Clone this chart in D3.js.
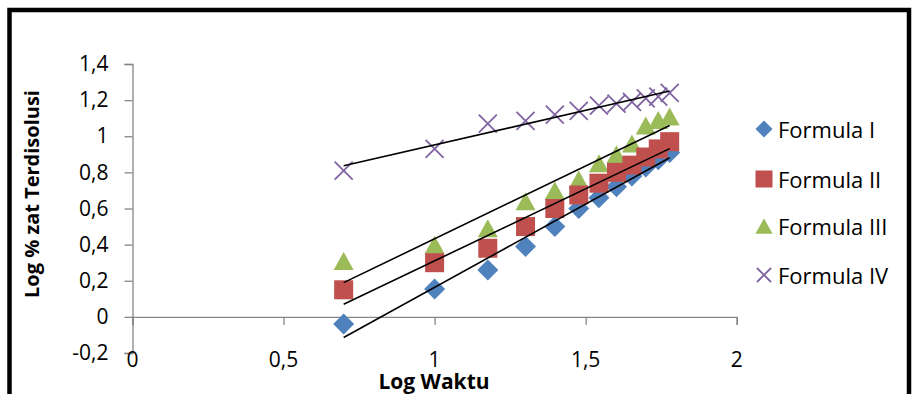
<!DOCTYPE html>
<html>
<head>
<meta charset="utf-8">
<script src="https://cdn.jsdelivr.net/npm/d3@7"></script>
<style>
  html, body { margin: 0; padding: 0; background: #fff; }
  svg { display: block; }
</style>
</head>
<body>
<svg id="chart" width="912" height="394"></svg>
<script>
// ---- data ----
const times = [5, 10, 15, 20, 25, 30, 35, 40, 45, 50, 55, 60];
const logTime = times.map(t => Math.log10(t));
const seriesNames = ["Formula I", "Formula II", "Formula III", "Formula IV"];
const formulaI   = [-0.04, 0.155, 0.26, 0.39, 0.50, 0.60, 0.66, 0.72, 0.78, 0.83, 0.87, 0.91];
const formulaII  = [0.15, 0.30, 0.38, 0.50, 0.60, 0.675, 0.74, 0.80, 0.84, 0.885, 0.93, 0.97];
const formulaIII = [0.31, 0.40, 0.49, 0.64, 0.70, 0.76, 0.85, 0.90, 0.96, 1.06, 1.09, 1.11];
const formulaIV  = [0.81, 0.93, 1.07, 1.085, 1.12, 1.14, 1.17, 1.18, 1.19, 1.21, 1.22, 1.24];
const xTicks = [0, 0.5, 1, 1.5, 2];
const yTicks = [-0.2, 0, 0.2, 0.4, 0.6, 0.8, 1, 1.2, 1.4];
const xTitle = "Log Waktu";
const yTitle = "Log  % zat Terdisolusi";

// ---- styles ----
const colors = ["#4F81BD", "#C0504D", "#9BBB59", "#8064A2"];
const shapes = ["diamond", "square", "triangle", "cross"];
const font = "'Open Sans', 'Liberation Sans', sans-serif";
const axisColor = "#868686";

const svg = d3.select("#chart");
const x = d3.scaleLinear().domain([0, 2]).range([132.5, 736.7]);
const y = d3.scaleLinear().domain([-0.2, 1.4]).range([353, 64]);
const fmt = d => String(+d.toFixed(1)).replace(".", ",");

// outer frame
svg.append("path")
  .attr("d", "M9.5,400 L9.5,10 L909,10 L909,400")
  .attr("fill", "none").attr("stroke", "#000").attr("stroke-width", 4.5);

// y axis
const yAxis = svg.append("g").attr("transform", `translate(${x(0)},0)`)
  .call(d3.axisLeft(y).tickValues(yTicks).tickSize(8).tickPadding(16).tickFormat(fmt));
yAxis.select(".domain").attr("stroke", axisColor).attr("stroke-width", 1.3);
yAxis.selectAll(".tick line").attr("stroke", axisColor).attr("stroke-width", 1.3);
yAxis.selectAll("text").attr("font-family", font).attr("font-size", 21).attr("fill", "#000");

// x axis at y=0
const xAxis = svg.append("g").attr("transform", `translate(0,${y(0)})`)
  .call(d3.axisBottom(x).tickValues(xTicks).tickSize(8).tickFormat(""));
xAxis.select(".domain").attr("stroke", axisColor).attr("stroke-width", 1.3);
xAxis.selectAll(".tick line").attr("stroke", axisColor).attr("stroke-width", 1.3);
// x tick labels at the bottom of plot
svg.append("g").selectAll("text").data(xTicks).join("text")
  .attr("x", d => x(d)).attr("y", y(-0.2) + 6)
  .attr("text-anchor", "middle").attr("dominant-baseline", "central")
  .attr("font-family", font).attr("font-size", 21).attr("fill", "#000")
  .text(fmt);

// axis titles
svg.append("text").attr("x", 434).attr("y", 389)
  .attr("text-anchor", "middle").attr("font-family", font).attr("font-weight", "bold")
  .attr("font-size", 21).text(xTitle);
svg.append("text").attr("transform", "translate(39,194) rotate(-90)")
  .attr("text-anchor", "middle").attr("font-family", font).attr("font-weight", "bold")
  .attr("font-size", 20).text(yTitle);

// marker helper
function marker(g, shape, color, cx, cy, s) {
  if (shape === "diamond") {
    const r = s / 2;
    g.append("path").attr("d", `M${cx},${cy - r} L${cx + r},${cy} L${cx},${cy + r} L${cx - r},${cy} Z`)
      .attr("fill", color);
  } else if (shape === "square") {
    g.append("rect").attr("x", cx - s / 2).attr("y", cy - s / 2).attr("width", s).attr("height", s)
      .attr("fill", color);
  } else if (shape === "triangle") {
    const h = s * 0.9;
    g.append("path").attr("d", `M${cx},${cy - h / 2} L${cx + s / 2},${cy + h / 2} L${cx - s / 2},${cy + h / 2} Z`)
      .attr("fill", color);
  } else {
    const r = s / 2;
    g.append("path").attr("d", `M${cx - r},${cy - r} L${cx + r},${cy + r} M${cx - r},${cy + r} L${cx + r},${cy - r}`)
      .attr("stroke", color).attr("stroke-width", 1.8).attr("fill", "none");
  }
}

const allSeries = [formulaI, formulaII, formulaIII, formulaIV];
const drawOrder = [0, 2, 1, 3];
const sizes = [21, 19, 20, 18];
const pts = svg.append("g");
drawOrder.forEach(i => {
  allSeries[i].forEach((v, j) => marker(pts, shapes[i], colors[i], x(logTime[j]), y(v), sizes[i]));
});

// linear trendlines
const lines = svg.append("g");
allSeries.forEach(vals => {
  const n = vals.length;
  const mx = d3.mean(logTime), my = d3.mean(vals);
  let sxy = 0, sxx = 0;
  for (let i = 0; i < n; i++) { sxy += (logTime[i] - mx) * (vals[i] - my); sxx += (logTime[i] - mx) ** 2; }
  const b = sxy / sxx, a = my - b * mx;
  const x0 = d3.min(logTime), x1 = d3.max(logTime);
  lines.append("line")
    .attr("x1", x(x0)).attr("y1", y(a + b * x0))
    .attr("x2", x(x1)).attr("y2", y(a + b * x1))
    .attr("stroke", "#000").attr("stroke-width", 1.6);
});

// legend
const leg = svg.append("g");
const legY = [129, 179, 226, 275];
seriesNames.forEach((name, i) => {
  marker(leg, shapes[i], colors[i], 764, legY[i], i === 3 ? 14 : 17);
  leg.append("text").attr("x", 778).attr("y", legY[i]).attr("dominant-baseline", "central")
    .attr("font-family", font).attr("font-size", 22).attr("fill", "#000").text(name);
});
</script>
</body>
</html>
